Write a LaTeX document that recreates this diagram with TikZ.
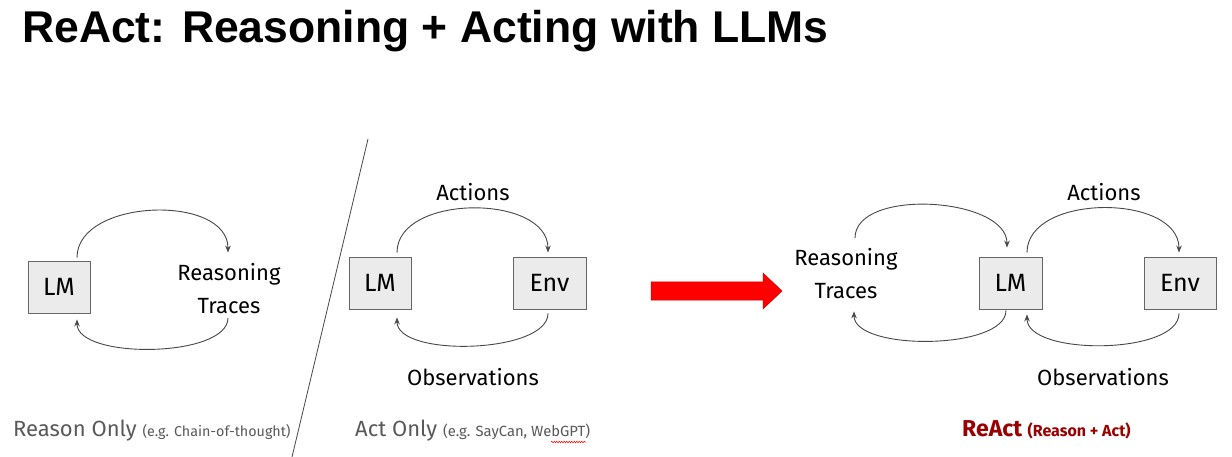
\documentclass[tikz,border=0pt]{standalone}
\usepackage{fontspec}
\setmainfont{Fira Sans}
\newfontfamily\titlefont{Liberation Sans}
\usetikzlibrary{arrows.meta}
\usetikzlibrary{decorations.pathmorphing}
\definecolor{boxfill}{HTML}{EBEBEB}
\definecolor{boxline}{HTML}{666666}
\definecolor{arcline}{HTML}{474747}
\definecolor{capgray}{HTML}{595959}
\definecolor{reactred}{HTML}{990000}
\definecolor{arrowred}{HTML}{FF0000}

\begin{document}
\begin{tikzpicture}[x=1pt,y=1pt,box/.style={draw=boxline,fill=boxfill,line width=0.9pt,minimum height=52pt,inner sep=0pt,font=\fontsize{25}{28}\selectfont},lbl/.style={inner sep=0pt,align=center,font=\fontsize{22}{33}\selectfont},loop/.style={draw=arcline,line width=0.9pt,-{Stealth[length=7pt,width=5.5pt]}},captext/.style={anchor=base west,inner sep=0pt,text=capgray,font=\fontsize{22}{26}\selectfont}]
  \useasboundingbox (0,0) rectangle (1232,-457);
  \fill[white] (0,0) rectangle (1232,-457);
  \node[anchor=base west,inner sep=0pt,font=\titlefont\bfseries\fontsize{44.5}{48}\selectfont] (title) at (22,-43) {ReAct: Reasoning + Acting with LLMs};
  %left
  %reason only
  \node[box,minimum width=62pt] (lmA) at (59,-287) {LM};
  \node[lbl] (rtA) at (229,-288.5) {Reasoning\\Traces};
  \draw[loop] ([shift={(18,3)}]lmA.north) to[out=90,in=90] ([shift={(-1,10.5)}]rtA.north);
  \draw[loop] ([shift={(-1,-4)}]rtA.south) to[out=-90,in=-90,looseness=0.68] ([shift={(18,-6)}]lmA.south);
  \node[captext] (capA) at (13,-436) {Reason Only {\fontsize{14.3}{18}\selectfont (e.g. Chain-of-thought)}};
  \draw[arcline,line width=0.8pt] (368,-139) -- (292,-457);
  %middle
  %act only
  \node[box,minimum width=62pt] (lmB) at (380,-283) {LM};
  \node[box,minimum width=73pt] (envB) at (549.5,-283) {Env};
  \draw[loop] ([shift={(17,4)}]lmB.north) to[out=90,in=90] ([shift={(-1.5,4)}]envB.north);
  \draw[loop] ([shift={(-1.5,-4)}]envB.south) to[out=-90,in=-90,looseness=0.68] ([shift={(17,-8)}]lmB.south);
  \node[lbl] (actB) at (473,-192) {Actions};
  \node[lbl] (obsB) at (473,-377) {Observations};
  \node[captext] (capB) at (355,-436) {Act Only {\fontsize{14.8}{18}\selectfont (e.g. SayCan, WebGPT)}};
  \draw[red,line width=0.5pt,decorate,decoration={snake,amplitude=0.8pt,segment length=2.5pt}] (551,-442) -- (586,-442);
  %arrow
  \filldraw[fill=arrowred,draw=arrowred!80!black,line width=0.5pt] (651,-282) -- (763,-282) -- (763,-273) -- (782,-291) -- (763,-309) -- (763,-300) -- (651,-300) -- cycle;
  %right
  %react
  \node[box,minimum width=63pt] (lmC) at (1010.5,-283) {LM};
  \node[box,minimum width=72pt] (envC) at (1180,-283) {Env};
  \node[lbl] (rtC) at (846,-274) {Reasoning\\Traces};
  \draw[loop] ([shift={(9,10.5)}]rtC.north) to[out=90,in=90,looseness=0.85] ([shift={(-3.5,9)}]lmC.north);
  \draw[loop] ([shift={(-4.5,-1)}]lmC.south) to[out=-90,in=-90,looseness=0.67] ([shift={(8,-12)}]rtC.south);
  \draw[loop] ([shift={(16.5,4)}]lmC.north) to[out=90,in=90] ([shift={(-1,4)}]envC.north);
  \draw[loop] ([shift={(-1,-4)}]envC.south) to[out=-90,in=-90,looseness=0.7] ([shift={(16.5,-5)}]lmC.south);
  \node[lbl] (actC) at (1104,-192) {Actions};
  \node[lbl] (obsC) at (1103,-377) {Observations};
  \node[anchor=base west,inner sep=0pt,text=reactred,font=\bfseries\fontsize{23}{26}\selectfont] (capC) at (962,-436) {ReAct {\fontsize{16}{18}\selectfont (Reason + Act)}};
\end{tikzpicture}
\end{document}
